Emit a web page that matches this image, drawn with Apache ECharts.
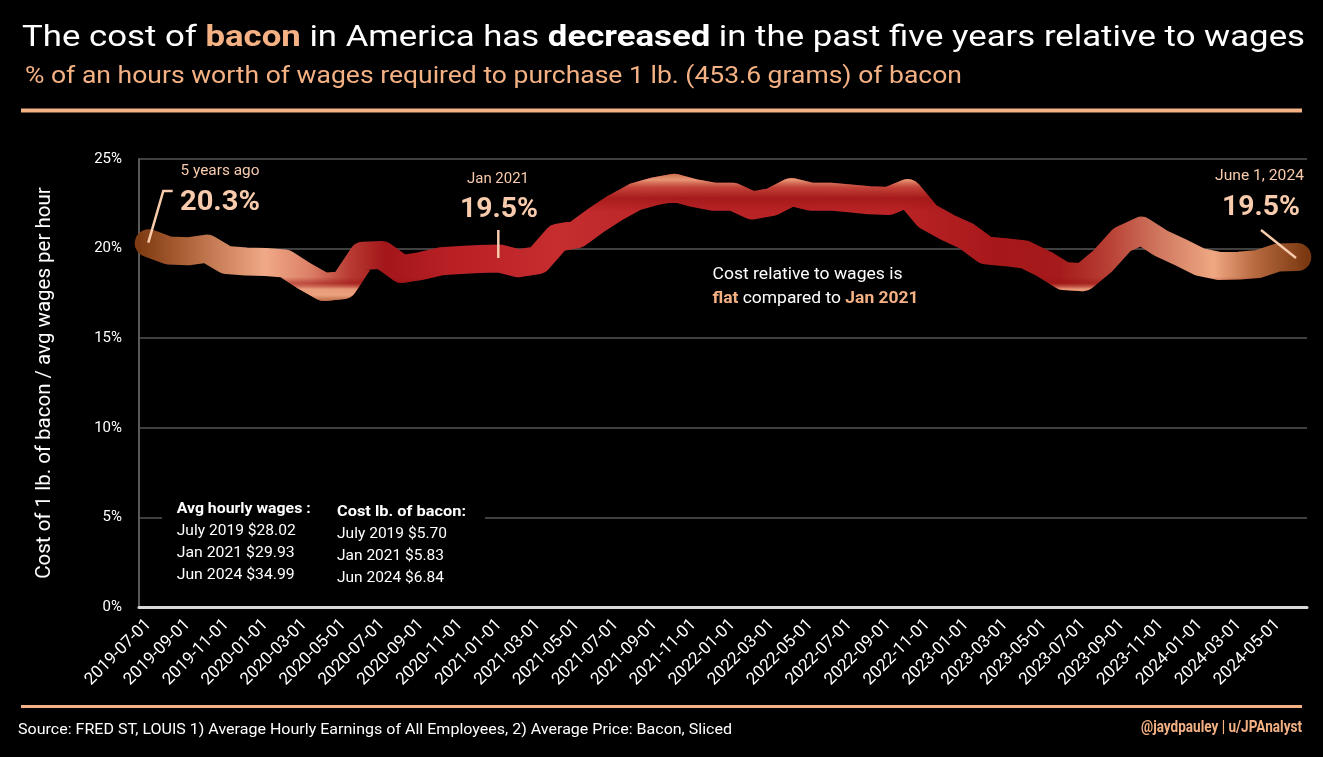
<!DOCTYPE html>
<html>
<head>
<meta charset="utf-8">
<script src="https://cdn.jsdelivr.net/npm/echarts@6/dist/echarts.min.js"></script>
<style>
html,body{margin:0;padding:0;background:#000;}
#c{width:1323px;height:757px;}
</style>
</head>
<body>
<div id="c"></div>
<script>
// ---- data ----
const categories = [
 '2019-07-01','2019-08-01','2019-09-01','2019-10-01','2019-11-01','2019-12-01',
 '2020-01-01','2020-02-01','2020-03-01','2020-04-01','2020-05-01','2020-06-01',
 '2020-07-01','2020-08-01','2020-09-01','2020-10-01','2020-11-01','2020-12-01',
 '2021-01-01','2021-02-01','2021-03-01','2021-04-01','2021-05-01','2021-06-01',
 '2021-07-01','2021-08-01','2021-09-01','2021-10-01','2021-11-01','2021-12-01',
 '2022-01-01','2022-02-01','2022-03-01','2022-04-01','2022-05-01','2022-06-01',
 '2022-07-01','2022-08-01','2022-09-01','2022-10-01','2022-11-01','2022-12-01',
 '2023-01-01','2023-02-01','2023-03-01','2023-04-01','2023-05-01','2023-06-01',
 '2023-07-01','2023-08-01','2023-09-01','2023-10-01','2023-11-01','2023-12-01',
 '2024-01-01','2024-02-01','2024-03-01','2024-04-01','2024-05-01','2024-06-01'
];
const costPctOfWage = [
 20.3, 19.9, 19.85, 20.0, 19.36, 19.28,
 19.25, 19.17, 18.47, 17.86, 17.97, 19.6,
 19.64, 18.86, 19.03, 19.29, 19.36, 19.42,
 19.45, 19.18, 19.36, 20.6, 20.8, 21.6,
 22.3, 22.9, 23.2, 23.4, 23.1, 22.9,
 22.9, 22.4, 22.6, 23.16, 22.9, 22.9,
 22.8, 22.7, 22.66, 23.1, 21.8, 21.2,
 20.7, 19.9, 19.8, 19.67, 19.14, 18.47,
 18.4, 19.3, 20.5, 21.0, 20.3, 19.8,
 19.25, 19.03, 19.05, 19.14, 19.5, 19.53
];
const yTicks = [0, 5, 10, 15, 20, 25];
const wageLines = ['July 2019 $28.02', 'Jan 2021 $29.93', 'Jun 2024 $34.99'];
const baconLines = ['July 2019 $5.70', 'Jan 2021 $5.83', 'Jun 2024 $6.84'];

// ---- helpers ----
const PEACH = '#f4b183';
const LIGHT = '#f8cbad';
const FAM = 'Roboto';
const cv = document.createElement('canvas').getContext('2d');
function mw(s, size, weight) { cv.font = weight + ' ' + size + 'px ' + FAM; return cv.measureText(s).width; }
// segments: [text, color, weight]
function fitLine(segs, x, y, targetW, size, align) {
  let total = 0;
  const ws = segs.map(s => { const w = mw(s[0], size, s[2]); total += w; return w; });
  const sc = targetW / total;
  let x0 = align === 'right' ? x - targetW : (align === 'center' ? x - targetW / 2 : x);
  const out = [];
  segs.forEach((s, i) => {
    out.push({type: 'text', x: x0, y: y, scaleX: sc, z: 100,
      style: {text: s[0], fill: s[1], fontSize: size, fontWeight: s[2], fontFamily: FAM,
              align: 'left', verticalAlign: 'middle'}});
    x0 += ws[i] * sc;
  });
  return out;
}

const graphics = [];
// Title & subtitle
graphics.push(...fitLine([
  ['The cost of ', '#fff', 'normal'], ['bacon', PEACH, 'bold'], [' in America has ', '#fff', 'normal'],
  ['decreased', '#fff', 'bold'], [' in the past five years relative to wages', '#fff', 'normal']
], 22, 38, 1283, 30, 'left'));
graphics.push(...fitLine([['% of an hours worth of wages required to purchase 1 lb. (453.6 grams) of bacon', PEACH, 'normal']],
  25, 77, 937, 24, 'left'));
graphics.push({type: 'rect', z: 100, shape: {x: 21, y: 108.5, width: 1281, height: 4}, style: {fill: PEACH}});
graphics.push({type: 'rect', z: 100, shape: {x: 21, y: 705, width: 1281, height: 3}, style: {fill: PEACH}});
// Footer
graphics.push(...fitLine([['Source: FRED ST, LOUIS 1) Average Hourly Earnings of All Employees, 2) Average Price: Bacon, Sliced', '#fff', 'normal']],
  18, 730, 714, 15, 'left'));
graphics.push(...fitLine([['@jaydpauley | u/JPAnalyst', PEACH, 'bold']], 1302, 727.5, 161, 16.5, 'right'));

// Annotations
graphics.push(...fitLine([['5 years ago', LIGHT, 'normal']], 180.5, 171.5, 79, 14, 'left'));
graphics.push(...fitLine([['20.3%', LIGHT, 'bold']], 180, 202.5, 80, 28, 'left'));
graphics.push(...fitLine([['Jan 2021', LIGHT, 'normal']], 498, 179, 62, 15, 'center'));
graphics.push(...fitLine([['19.5%', LIGHT, 'bold']], 499, 209.5, 78, 28, 'center'));
graphics.push(...fitLine([['June 1, 2024', LIGHT, 'normal']], 1304, 176, 89, 15, 'right'));
graphics.push(...fitLine([['19.5%', LIGHT, 'bold']], 1261, 208, 78, 28, 'center'));
graphics.push(...fitLine([['Cost relative to wages is', '#fff', 'normal']], 712.5, 275, 190, 16, 'left'));
graphics.push(...fitLine([['flat', PEACH, 'bold'], [' compared to ', '#fff', 'normal'], ['Jan 2021', PEACH, 'bold']],
  712.5, 299, 206, 16, 'left'));

const leader = {stroke: LIGHT, lineWidth: 2.5, fill: null};
graphics.push({type: 'polyline', z: 100, shape: {points: [[148.3, 242.7], [163.3, 191], [172.7, 191]]}, style: leader});
graphics.push({type: 'line', z: 100, shape: {x1: 498.3, y1: 230, x2: 498.3, y2: 258}, style: leader});
graphics.push({type: 'line', z: 100, shape: {x1: 1261, y1: 230, x2: 1296, y2: 258}, style: leader});

// Info box
graphics.push({type: 'rect', z: 99, shape: {x: 162, y: 496, width: 323, height: 96}, style: {fill: '#000'}});
graphics.push(...fitLine([['Avg hourly wages :', '#fff', 'bold']], 176.7, 509, 134, 15, 'left'));
graphics.push(...fitLine([['Cost lb. of bacon:', '#fff', 'bold']], 337, 512.5, 129, 15, 'left'));
wageLines.forEach((t, i) => graphics.push(...fitLine([[t, '#fff', 'normal']], 176.7, 531.5 + i * 22, t === wageLines[0] ? 119 : 118, 15, 'left')));
baconLines.forEach((t, i) => graphics.push(...fitLine([[t, '#fff', 'normal']], 337, 534 + i * 22, t === baconLines[0] ? 110 : 107, 15, 'left')));

// ---- chart ----
const chart = echarts.init(document.getElementById('c'), null, {renderer: 'canvas'});
const hGrad = {type: 'linear', x: 139, y: 0, x2: 1307, y2: 0, global: true, colorStops: [
  {offset: 0.000, color: '#7e3b12'},
  {offset: 0.031, color: '#a4592f'},
  {offset: 0.078, color: '#d48a64'},
  {offset: 0.108, color: '#f0a986'},
  {offset: 0.146, color: '#dc8068'},
  {offset: 0.181, color: '#b83a32'},
  {offset: 0.211, color: '#a3161a'},
  {offset: 0.266, color: '#b82025'},
  {offset: 0.360, color: '#c52d2f'},
  {offset: 0.480, color: '#b82326'},
  {offset: 0.650, color: '#bb2426'},
  {offset: 0.737, color: '#a6171a'},
  {offset: 0.788, color: '#a51a1b'},
  {offset: 0.830, color: '#b84035'},
  {offset: 0.874, color: '#d07860'},
  {offset: 0.920, color: '#efa882'},
  {offset: 0.955, color: '#b86a40'},
  {offset: 1.000, color: '#7a3810'}
]};
const vGrad = {type: 'linear', x: 0, y: 165, x2: 0, y2: 305, global: true, colorStops: [
  {offset: (165 - 165) / 140, color: 'rgba(130,60,25,1)'},
  {offset: (173 - 165) / 140, color: 'rgba(200,110,70,0.95)'},
  {offset: (180 - 165) / 140, color: 'rgba(236,162,126,0.9)'},
  {offset: (188 - 165) / 140, color: 'rgba(200,90,70,0.5)'},
  {offset: (198 - 165) / 140, color: 'rgba(150,18,18,0.55)'},
  {offset: (212 - 165) / 140, color: 'rgba(150,18,18,0)'},
  {offset: (277 - 165) / 140, color: 'rgba(150,18,18,0)'},
  {offset: (283 - 165) / 140, color: 'rgba(155,20,20,0.5)'},
  {offset: (289 - 165) / 140, color: 'rgba(235,160,125,0.9)'},
  {offset: (295 - 165) / 140, color: 'rgba(235,162,126,1)'},
  {offset: (305 - 165) / 140, color: 'rgba(150,70,30,1)'}
]};

chart.setOption({
  backgroundColor: '#000',
  animation: false,
  grid: {left: 139, right: 16, top: 159, bottom: 150, containLabel: false},
  xAxis: {
    type: 'category', data: categories, boundaryGap: true,
    axisTick: {show: false},
    axisLine: {show: true, lineStyle: {color: '#d9d9d9', width: 3}},
    axisLabel: {interval: 1, rotate: 45, color: '#fff', fontSize: 17, fontFamily: FAM, margin: 15},
    splitLine: {show: false}
  },
  yAxis: {
    type: 'value', min: yTicks[0], max: yTicks[yTicks.length - 1], interval: 5,
    name: 'Cost of 1 lb. of bacon / avg wages per hour', nameLocation: 'middle', nameGap: 84,
    nameTextStyle: {color: '#fff', fontSize: 20.5, fontFamily: FAM},
    axisLine: {show: true, lineStyle: {color: '#595959', width: 2}},
    axisTick: {show: false},
    axisLabel: {formatter: '{value}%', color: '#fff', fontSize: 15, fontFamily: FAM, margin: 17},
    splitLine: {show: true, lineStyle: {color: '#404040', width: 2}}
  },
  series: [
    {type: 'line', data: costPctOfWage, symbol: 'none', smooth: false, z: 2, silent: true,
     lineStyle: {width: 28, color: hGrad, cap: 'round', join: 'round'}},
    {type: 'line', data: costPctOfWage, symbol: 'none', smooth: false, z: 3, silent: true,
     lineStyle: {width: 28, color: vGrad, cap: 'round', join: 'round'}}
  ],
  graphic: graphics
});
</script>
</body>
</html>
